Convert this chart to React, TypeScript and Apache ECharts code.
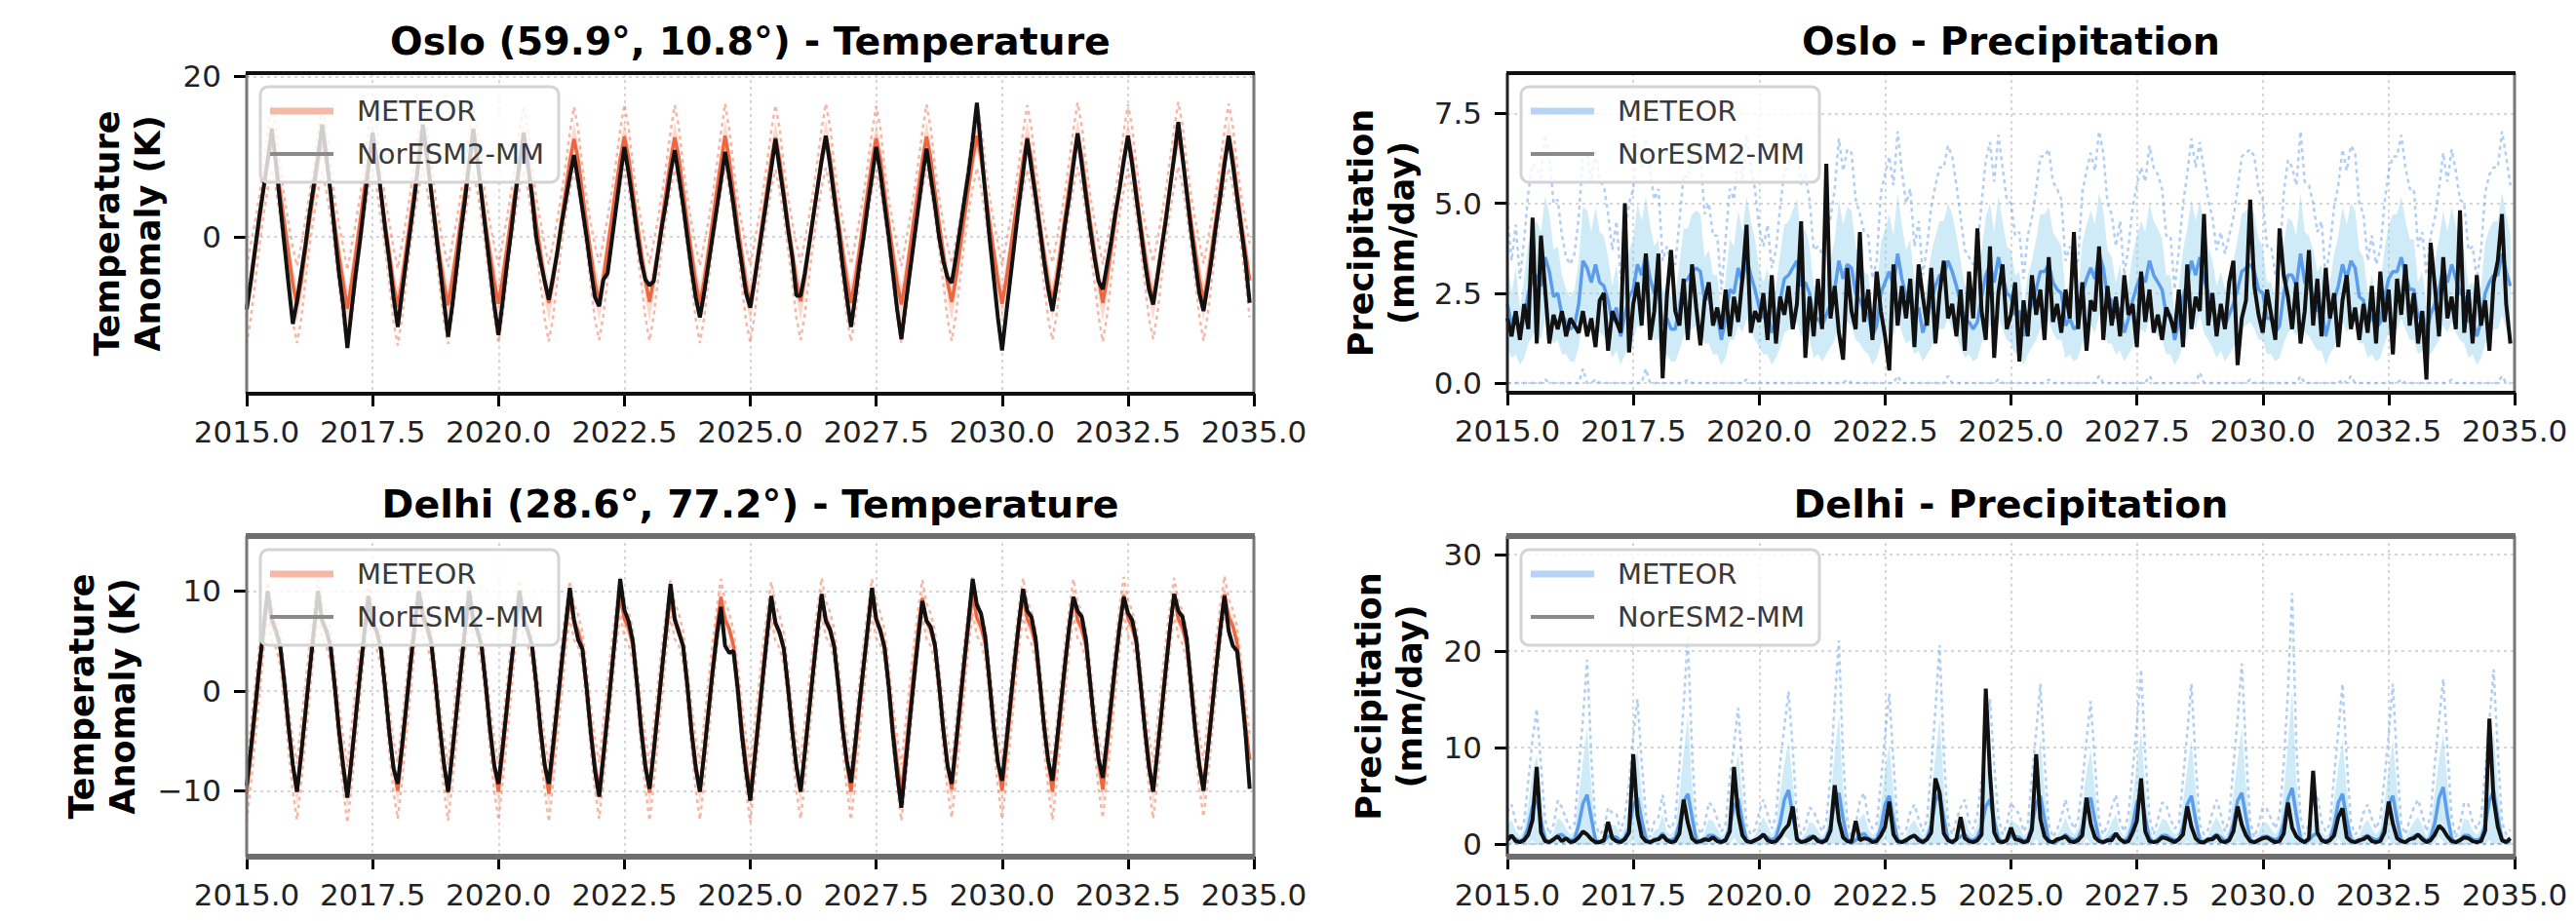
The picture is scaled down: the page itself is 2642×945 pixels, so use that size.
import React, { useEffect, useRef } from "react";
import * as echarts from "echarts";

// ---------- axes / ticks ----------
const X_MIN = 2015;
const X_MAX = 2035;
const X_INTERVAL = 2.5;
const N_MONTHS = 240;

const osloTempTicks = [0, 20];
const delhiTempTicks = [-10, 0, 10];
const osloPrecipTicks = [0, 2.5, 5, 7.5];
const delhiPrecipTicks = [0, 10, 20, 30];

const osloTempRange = [-19.5, 20.4];
const delhiTempRange = [-16.6, 15.5];
const osloPrecipRange = [-0.27, 8.62];
const delhiPrecipRange = [-1.3, 31.9];

const titles = [
  "Oslo (59.9°, 10.8°) - Temperature",
  "Oslo - Precipitation",
  "Delhi (28.6°, 77.2°) - Temperature",
  "Delhi - Precipitation",
];
const yNames = [
  "Temperature\nAnomaly (K)",
  "Precipitation\n(mm/day)",
  "Temperature\nAnomaly (K)",
  "Precipitation\n(mm/day)",
];
const legendNames = ["METEOR", "NorESM2-MM"];

// ---------- Oslo temperature (monthly, Jan 2015 .. Dec 2034) ----------
const osloTempNorESM = [
  -9, -5.5, -1.5, 2.5, 6, 9.5, 13.5, 9, 4, -1, -6, -10.8,
  -8, -4.5, -1, 3, 6.5, 10, 14, 10, 5.5, 0.5, -4.5, -8.5,
  -13.8, -9, -4.5, -0.5, 4, 8.5, 13, 9.5, 5.5, 1, -3, -7.5,
  -11.2, -7, -3, 1, 5, 9.5, 14, 10, 5.5, 1, -3.5, -8,
  -12.4, -8.5, -4, 0.5, 4.5, 9, 13.5, 9.5, 5, 0.5, -4, -8.5,
  -12.2, -8, -3.5, 0.5, 5, 9, 13, 9, 5, 0, -3, -5.5,
  -7.8, -5, -2, 1.5, 4.5, 7.5, 10.2, 7, 3.5, 0, -4, -7.5,
  -8.6, -5.3, -4.5, -0.5, 3.5, 7.5, 11.2, 8, 4.5, 0.5, -3, -5.3,
  -6, -5.5, -2, 1.5, 4.5, 8, 10.8, 7.5, 4, 0, -4, -7.5,
  -10, -7, -3.5, 0, 3.5, 7, 10.6, 7.5, 4, 0, -3.5, -7,
  -8.8, -5.5, -2, 1.5, 5, 8.5, 12.2, 8.5, 5, 1, -2.5, -7.3,
  -7.3, -4.5, -1, 2.5, 6, 9.5, 12.6, 9, 5, 1, -3.5, -7.5,
  -11.2, -7.5, -3.5, 0, 4, 7.5, 11.2, 8, 4, 0, -4.5, -9,
  -12.7, -8.5, -4.5, -0.5, 3.5, 7.5, 11, 7.5, 4, 0, -3, -5,
  -5.7, -2.5, 1, 4.5, 8, 12, 16.7, 11, 5.5, 0, -5, -10,
  -14.1, -9.5, -5, -0.5, 4, 8, 12.2, 8.5, 5, 1, -3, -6.5,
  -9.2, -6, -2.5, 1.5, 5, 9, 12.9, 9, 5, 1, -2.5, -5.5,
  -6.5, -3.5, -0.5, 3, 6, 9.5, 12.6, 9, 5, 1, -3, -6.5,
  -8.4, -5, -1.5, 2, 6, 10, 14.3, 10, 5.5, 1, -3, -7,
  -9.2, -6, -2.5, 1.5, 5, 9, 12.6, 9, 5, 1, -3, -8.2,
];
const osloTempMeteorMean = [
  -8.6, -5.4, -1.9, 1.9, 5.9, 9.5, 12.4, 9.7, 5.5, 1.7, -2.1, -5.9,
  -8.4, -5.6, -1.7, 2.1, 5.7, 9.3, 12.2, 9.5, 5.7, 1.5, -2.3, -5.7,
  -8.9, -5.7, -2.0, 1.8, 5.8, 9.4, 12.5, 9.8, 5.4, 1.6, -2.0, -6.0,
  -8.7, -5.5, -1.6, 2.2, 6.0, 9.6, 12.6, 9.6, 5.8, 1.8, -2.4, -5.8,
  -8.5, -5.3, -1.8, 2.0, 5.6, 9.2, 12.1, 9.4, 5.4, 1.4, -2.2, -5.6,
  -8.3, -5.2, -1.5, 2.3, 5.9, 9.5, 12.3, 9.7, 5.7, 1.7, -1.9, -5.5,
  -8.2, -5.4, -1.7, 2.1, 5.8, 9.4, 12.2, 9.6, 5.6, 1.6, -2.1, -5.7,
  -8.0, -5.1, -1.4, 2.4, 6.1, 9.7, 12.5, 9.9, 5.9, 1.9, -1.8, -5.4,
  -8.1, -5.2, -1.6, 2.2, 5.9, 9.5, 12.4, 9.8, 5.8, 1.8, -2.0, -5.6,
  -8.4, -5.5, -1.9, 1.9, 5.7, 9.3, 12.6, 9.6, 5.6, 1.5, -2.2, -5.9,
  -8.3, -5.3, -1.5, 2.3, 6.0, 9.6, 12.4, 9.7, 5.7, 1.7, -1.9, -5.5,
  -8.0, -5.0, -1.3, 2.5, 6.2, 9.8, 12.6, 10.0, 6.0, 2.0, -1.7, -5.3,
  -8.2, -5.3, -1.7, 2.1, 5.8, 9.4, 12.3, 9.7, 5.6, 1.6, -2.1, -5.7,
  -8.4, -5.4, -1.6, 2.2, 5.9, 9.5, 12.5, 9.8, 5.7, 1.7, -2.0, -5.6,
  -8.1, -5.1, -1.4, 2.4, 6.1, 9.7, 12.6, 9.9, 5.9, 1.9, -1.8, -5.4,
  -8.3, -5.3, -1.6, 2.2, 5.9, 9.5, 12.4, 9.7, 5.7, 1.7, -2.0, -5.6,
  -8.0, -5.0, -1.3, 2.5, 6.2, 9.8, 12.7, 10.0, 6.0, 2.0, -1.7, -5.3,
  -8.2, -5.2, -1.5, 2.3, 6.0, 9.6, 12.5, 9.8, 5.8, 1.8, -1.9, -5.5,
  -7.9, -5.0, -1.3, 2.5, 6.3, 9.9, 12.8, 10.1, 6.1, 2.1, -1.6, -5.2,
  -8.1, -5.1, -1.4, 2.4, 6.1, 9.7, 12.6, 9.9, 5.9, 1.9, -1.8, -5.4,
];
// ensemble spread by calendar month (Jan..Dec)
const osloTempMeteorStd = [2.4, 2.3, 1.9, 1.6, 1.6, 1.8, 2.0, 1.9, 1.6, 1.6, 1.9, 2.3];

// ---------- Delhi temperature ----------
const delhiTempNorESM = [
  -9.5, -5.8, -1.8, 2.4, 6.2, 10.0, 7.2, 6.0, 4.5, 0.8, -3.6, -7.4,
  -10.1, -6.3, -2.2, 2.0, 6.0, 10.0, 7.0, 6.0, 4.4, 0.4, -4.0, -7.6,
  -10.7, -6.8, -2.6, 1.6, 5.6, 9.5, 6.8, 6.0, 4.2, 0.2, -4.2, -7.8,
  -9.3, -5.6, -1.6, 2.6, 6.4, 10.0, 7.6, 6.5, 4.8, 0.9, -3.5, -7.3,
  -10.1, -6.2, -2.1, 2.1, 6.1, 10.0, 7.1, 6.0, 4.4, 0.5, -3.9, -7.5,
  -9.3, -5.6, -1.6, 2.5, 6.3, 10.0, 7.2, 6.0, 4.5, 0.7, -3.8, -7.4,
  -9.3, -5.5, -1.5, 2.6, 6.5, 10.3, 7.1, 5.1, 4.2, 0.3, -4.2, -8.0,
  -10.6, -6.6, -2.4, 2.0, 6.4, 11.2, 8.1, 7.0, 5.0, 0.8, -3.9, -7.6,
  -9.8, -6.0, -1.9, 2.4, 6.4, 10.7, 7.2, 5.8, 4.5, 0.6, -4.1, -7.7,
  -10.1, -6.3, -2.3, 1.8, 5.4, 8.4, 4.5, 3.8, 4.0, 0.2, -4.4, -8.0,
  -11.0, -7.0, -2.8, 1.4, 5.5, 9.5, 6.8, 5.8, 4.2, 0.3, -4.0, -7.6,
  -10.1, -6.2, -2.1, 2.0, 6.0, 9.7, 7.0, 6.1, 4.4, 0.5, -3.8, -7.0,
  -9.2, -5.4, -1.3, 2.5, 6.3, 10.3, 7.2, 6.0, 4.3, 0.4, -4.4, -8.3,
  -11.7, -7.4, -3.0, 1.2, 5.2, 9.0, 7.0, 6.4, 4.6, 0.6, -3.9, -7.5,
  -9.3, -5.4, -1.2, 3.0, 7.0, 11.2, 8.6, 7.7, 5.4, 1.0, -3.6, -7.2,
  -9.0, -5.2, -1.1, 3.0, 6.8, 10.2, 8.0, 7.4, 5.2, 0.9, -3.5, -7.0,
  -9.0, -5.3, -1.3, 2.7, 6.4, 9.4, 8.0, 7.4, 5.1, 0.8, -3.4, -6.8,
  -8.7, -5.0, -1.1, 2.8, 6.4, 9.4, 7.8, 7.1, 5.0, 0.7, -3.7, -7.6,
  -10.1, -6.2, -2.1, 2.1, 6.2, 9.7, 8.0, 7.4, 5.2, 0.7, -3.8, -7.5,
  -10.0, -6.1, -2.0, 2.2, 6.1, 9.5, 6.0, 4.5, 4.0, 0.2, -4.2, -9.8,
];
const delhiTempMeteorMean = [
  -10.3, -6.4, -2.3, 1.9, 5.9, 9.1, 6.8, 5.9, 4.2, 0.4, -3.9, -7.5,
  -10.1, -6.2, -2.1, 2.1, 6.1, 9.3, 7.0, 6.1, 4.4, 0.6, -3.7, -7.3,
  -10.4, -6.5, -2.4, 1.8, 5.8, 9.0, 6.7, 5.8, 4.1, 0.3, -4.0, -7.6,
  -10.0, -6.1, -2.0, 2.2, 6.2, 9.4, 7.1, 6.2, 4.5, 0.7, -3.6, -7.2,
  -10.2, -6.3, -2.2, 2.0, 6.0, 9.2, 6.9, 6.0, 4.3, 0.5, -3.8, -7.4,
  -10.1, -6.2, -2.1, 2.1, 6.1, 9.3, 7.0, 6.1, 4.4, 0.6, -3.7, -7.3,
  -10.3, -6.3, -2.2, 2.0, 6.0, 9.2, 6.9, 6.0, 4.3, 0.5, -3.8, -7.4,
  -10.0, -6.1, -1.9, 2.3, 6.3, 9.5, 7.2, 6.3, 4.6, 0.8, -3.5, -7.1,
  -10.2, -6.3, -2.1, 2.1, 6.1, 9.3, 7.0, 6.1, 4.4, 0.6, -3.7, -7.3,
  -10.1, -6.2, -2.0, 2.2, 6.2, 9.4, 7.1, 6.2, 4.5, 0.7, -3.6, -7.2,
  -10.4, -6.5, -2.3, 1.9, 5.9, 9.1, 6.8, 5.9, 4.2, 0.4, -3.9, -7.5,
  -10.0, -6.1, -1.9, 2.3, 6.3, 9.5, 7.2, 6.3, 4.6, 0.8, -3.5, -7.1,
  -10.1, -6.2, -2.0, 2.2, 6.2, 9.4, 7.1, 6.2, 4.5, 0.7, -3.6, -7.2,
  -10.2, -6.3, -2.1, 2.1, 6.1, 9.3, 7.0, 6.1, 4.4, 0.6, -3.7, -7.3,
  -9.9, -6.0, -1.8, 2.4, 6.4, 9.6, 7.3, 6.4, 4.7, 0.9, -3.4, -7.0,
  -10.0, -6.1, -1.9, 2.3, 6.3, 9.5, 7.2, 6.3, 4.6, 0.8, -3.5, -7.1,
  -10.1, -6.2, -2.0, 2.2, 6.2, 9.4, 7.1, 6.2, 4.5, 0.7, -3.6, -7.2,
  -9.9, -6.0, -1.8, 2.4, 6.4, 9.6, 7.3, 6.4, 4.7, 0.9, -3.4, -7.0,
  -10.0, -6.1, -1.9, 2.3, 6.3, 9.5, 7.2, 6.3, 4.6, 0.8, -3.5, -7.1,
  -9.8, -5.9, -1.7, 2.5, 6.5, 9.7, 7.4, 6.5, 4.8, 1.0, -3.3, -6.9,
];
const delhiTempMeteorStd = [1.4, 1.5, 1.4, 1.3, 1.0, 0.9, 0.9, 0.8, 0.8, 0.9, 1.1, 1.3];

// ---------- Oslo precipitation (mm/day) ----------
const osloPrecipNorESM = [
  1.8, 1.3, 2.0, 1.2, 2.2, 1.5, 4.6, 1.1, 4.1, 2.6, 1.1, 1.9,
  1.5, 2.0, 1.3, 1.8, 1.6, 1.4, 2.0, 1.3, 1.8, 1.0, 2.3, 2.5,
  0.9, 2.0, 1.7, 1.4, 5.0, 0.85, 2.2, 2.8, 1.6, 3.6, 1.2, 2.0,
  3.6, 0.13, 2.4, 3.7, 2.0, 1.6, 2.9, 1.2, 3.3, 2.1, 1.05, 2.3,
  2.8, 1.6, 2.1, 1.5, 2.6, 1.3, 2.4, 1.7, 2.9, 4.4, 1.4, 2.0,
  1.7, 2.5, 1.2, 3.0, 1.1, 2.4, 1.9, 2.7, 1.5, 2.2, 4.5, 0.7,
  2.4, 1.3, 2.9, 1.5, 6.1, 1.8, 2.7, 1.4, 0.65, 3.2, 2.0, 1.5,
  4.2, 1.7, 2.6, 1.2, 3.1, 2.0, 1.3, 0.35, 3.3, 1.6, 2.7, 1.8,
  2.9, 1.0, 3.3, 2.4, 1.6, 3.2, 1.1, 2.5, 3.4, 1.8, 2.2, 1.3,
  2.6, 0.9, 3.1, 1.8, 4.3, 2.0, 1.2, 3.8, 0.7, 2.5, 3.3, 1.5,
  1.9, 2.8, 0.6, 2.3, 1.3, 3.0, 1.9, 2.6, 1.2, 3.5, 1.7, 2.2,
  1.4, 2.6, 1.8, 4.2, 1.5, 2.8, 0.9, 2.3, 2.0, 3.8, 1.2, 2.7,
  1.6, 2.4, 1.3, 3.0, 1.9, 2.2, 1.0, 3.1, 1.7, 2.6, 1.4, 1.9,
  1.2, 2.1, 1.8, 1.4, 2.6, 1.0, 3.3, 1.5, 2.4, 2.0, 4.7, 1.6,
  2.5, 1.3, 2.2, 1.5, 2.8, 3.4, 0.5, 1.8, 2.3, 5.1, 2.7, 1.9,
  1.4, 2.6, 1.9, 1.2, 4.3, 3.0, 2.4, 1.5, 2.8, 1.1, 2.0, 3.7,
  1.6, 2.9, 1.3, 3.2, 1.8, 2.5, 1.0, 2.3, 3.0, 1.5, 2.1, 1.2,
  2.2, 1.4, 2.7, 1.1, 3.1, 1.7, 2.6, 0.8, 2.9, 1.9, 3.3, 1.6,
  2.5, 1.1, 2.0, 0.1, 3.9, 2.7, 1.3, 3.5, 1.8, 2.4, 1.5, 4.8,
  1.4, 2.6, 1.1, 3.0, 1.6, 2.3, 0.9, 2.8, 3.4, 4.7, 2.2, 1.1,
];
const osloPrecipMeteorMean = [
  2.2, 1.6, 2.0, 1.3, 1.8, 2.5, 2.9, 3.0, 2.7, 3.5, 3.1, 2.4,
  2.5, 1.9, 1.7, 1.5, 1.6, 2.2, 3.4, 3.2, 2.8, 3.3, 2.8, 2.7,
  2.3, 1.7, 2.1, 1.3, 1.9, 2.4, 2.6, 3.3, 3.0, 3.6, 2.9, 2.5,
  2.6, 1.6, 1.8, 1.5, 1.5, 2.1, 2.8, 2.9, 3.1, 3.2, 3.1, 2.3,
  2.4, 1.9, 1.9, 1.2, 1.8, 2.6, 2.5, 3.2, 2.8, 3.5, 3.0, 2.6,
  2.1, 1.8, 2.0, 1.4, 1.7, 2.3, 2.9, 3.0, 3.2, 3.4, 2.7, 2.8,
  2.5, 1.7, 1.8, 1.6, 1.9, 2.2, 2.6, 3.4, 2.9, 3.3, 3.2, 2.5,
  2.3, 2.0, 1.9, 1.3, 1.6, 2.5, 2.8, 3.1, 2.7, 3.6, 2.9, 2.4,
  2.6, 1.8, 2.1, 1.4, 1.8, 2.3, 2.7, 3.0, 3.0, 3.4, 3.1, 2.7,
  2.2, 1.7, 1.7, 1.5, 1.7, 2.4, 3.0, 3.3, 2.8, 3.5, 3.0, 2.5,
  2.4, 1.9, 2.0, 1.3, 1.9, 2.2, 2.6, 3.1, 3.1, 3.3, 2.8, 2.6,
  2.5, 1.6, 1.8, 1.5, 1.6, 2.5, 2.9, 3.2, 2.9, 3.6, 3.2, 2.4,
  2.3, 1.8, 2.1, 1.4, 1.8, 2.3, 2.7, 3.0, 2.8, 3.4, 3.0, 2.8,
  2.6, 1.9, 1.9, 1.2, 1.7, 2.4, 2.8, 3.4, 3.0, 3.5, 2.9, 2.5,
  2.2, 1.7, 2.0, 1.6, 1.9, 2.2, 2.6, 3.1, 3.2, 3.3, 3.1, 2.6,
  2.5, 1.8, 1.8, 1.4, 1.6, 2.5, 3.0, 3.0, 2.7, 3.6, 2.8, 2.7,
  2.4, 2.0, 2.1, 1.3, 1.8, 2.3, 2.7, 3.3, 2.9, 3.4, 3.2, 2.4,
  2.3, 1.6, 1.9, 1.5, 1.7, 2.4, 2.9, 3.1, 3.1, 3.5, 3.0, 2.6,
  2.6, 1.8, 2.0, 1.4, 1.9, 2.2, 2.6, 3.2, 2.8, 3.3, 2.9, 2.5,
  2.4, 1.7, 1.8, 1.3, 1.7, 2.5, 2.8, 3.0, 3.0, 3.6, 3.1, 2.7,
];
const osloPrecipMeteorStd = [
  1.2, 0.9, 1.2, 0.8, 1.1, 1.4, 1.6, 1.5, 1.5, 1.7, 1.6, 1.3,
  1.3, 1.1, 0.9, 0.9, 1.0, 1.2, 1.5, 1.6, 1.4, 1.6, 1.4, 1.4,
  1.2, 1.0, 1.2, 0.8, 1.1, 1.3, 1.4, 1.7, 1.5, 1.6, 1.5, 1.3,
  1.4, 0.9, 1.0, 0.9, 0.9, 1.2, 1.5, 1.4, 1.6, 1.6, 1.6, 1.2,
  1.3, 1.1, 1.1, 0.7, 1.1, 1.4, 1.3, 1.6, 1.4, 1.7, 1.5, 1.4,
  1.1, 1.0, 1.2, 0.9, 1.0, 1.3, 1.5, 1.5, 1.6, 1.7, 1.4, 1.5,
  1.3, 1.0, 1.0, 1.0, 1.1, 1.2, 1.4, 1.7, 1.5, 1.6, 1.6, 1.3,
  1.2, 1.1, 1.1, 0.8, 0.9, 1.4, 1.5, 1.6, 1.4, 1.7, 1.5, 1.3,
  1.4, 1.0, 1.2, 0.8, 1.0, 1.3, 1.4, 1.5, 1.5, 1.6, 1.6, 1.4,
  1.2, 1.0, 0.9, 0.9, 1.0, 1.3, 1.6, 1.7, 1.4, 1.7, 1.5, 1.3,
  1.3, 1.1, 1.1, 0.8, 1.1, 1.2, 1.4, 1.6, 1.6, 1.6, 1.4, 1.4,
  1.3, 0.9, 1.0, 0.9, 0.9, 1.4, 1.5, 1.6, 1.5, 1.7, 1.6, 1.3,
  1.2, 1.0, 1.2, 0.8, 1.0, 1.3, 1.4, 1.5, 1.4, 1.6, 1.5, 1.5,
  1.4, 1.1, 1.1, 0.7, 1.0, 1.3, 1.5, 1.7, 1.5, 1.6, 1.5, 1.3,
  1.2, 1.0, 1.1, 1.0, 1.1, 1.2, 1.4, 1.6, 1.6, 1.6, 1.6, 1.4,
  1.3, 1.0, 1.0, 0.8, 0.9, 1.4, 1.6, 1.5, 1.4, 1.7, 1.4, 1.4,
  1.3, 1.1, 1.2, 0.8, 1.0, 1.3, 1.4, 1.6, 1.5, 1.6, 1.6, 1.3,
  1.2, 0.9, 1.1, 0.9, 1.0, 1.3, 1.5, 1.6, 1.6, 1.7, 1.5, 1.4,
  1.4, 1.0, 1.1, 0.8, 1.1, 1.2, 1.4, 1.6, 1.4, 1.6, 1.5, 1.3,
  1.3, 1.0, 1.0, 0.8, 1.0, 1.4, 1.5, 1.5, 1.5, 1.7, 1.6, 1.4,
];

// ---------- Delhi precipitation (mm/day) ----------
const delhiPrecipNorESM = [
  0.4, 0.9, 0.3, 0.2, 0.4, 1.0, 2.5, 8.0, 1.2, 0.3, 0.2, 0.5,
  0.8, 0.3, 0.6, 0.2, 0.3, 0.7, 1.3, 1.0, 0.5, 0.2, 0.2, 0.4,
  2.3, 0.6, 0.3, 0.2, 0.5, 1.2, 9.3, 3.0, 0.8, 0.3, 0.2, 0.4,
  0.5, 0.9, 0.4, 0.2, 0.3, 1.1, 4.6, 2.2, 0.6, 0.2, 0.3, 0.5,
  0.4, 0.7, 0.3, 0.2, 0.4, 1.3, 8.0, 3.1, 0.9, 0.3, 0.2, 0.4,
  0.6, 1.0, 0.4, 0.2, 0.3, 0.8, 1.5, 2.0, 3.9, 0.5, 0.2, 0.3,
  0.5, 0.8, 0.3, 0.2, 0.4, 1.4, 6.1, 2.4, 0.7, 0.3, 0.2, 2.4,
  0.4, 0.6, 0.5, 0.2, 0.3, 0.9, 1.8, 4.4, 1.0, 0.3, 0.2, 0.4,
  0.7, 0.9, 0.4, 0.2, 0.5, 1.2, 6.8, 5.3, 1.1, 0.4, 0.2, 0.5,
  2.8, 0.6, 0.3, 0.2, 0.4, 1.0, 16.1, 7.3, 1.2, 0.3, 0.2, 0.4,
  1.7, 0.5, 0.4, 0.2, 0.3, 1.5, 9.3, 2.6, 0.8, 0.3, 0.2, 0.5,
  0.6, 0.8, 0.3, 0.2, 0.4, 0.9, 4.8, 2.1, 0.7, 0.3, 0.2, 0.4,
  0.4, 1.1, 0.5, 0.2, 0.3, 1.2, 2.4, 6.8, 1.3, 0.3, 0.2, 0.3,
  0.7, 0.6, 0.4, 0.2, 0.5, 1.0, 3.9, 1.8, 0.6, 0.2, 0.2, 0.5,
  0.5, 0.9, 0.3, 0.2, 0.4, 1.3, 3.9, 2.0, 0.9, 0.3, 0.2, 0.4,
  0.6, 0.7, 0.4, 0.2, 0.3, 1.1, 4.3, 1.7, 0.8, 0.4, 0.2, 0.6,
  7.6, 1.2, 0.4, 0.2, 0.4, 0.9, 2.8, 3.7, 0.7, 0.3, 0.2, 0.4,
  0.5, 0.8, 0.3, 0.2, 0.3, 1.2, 4.4, 2.1, 0.6, 0.3, 0.2, 0.5,
  0.6, 1.0, 0.5, 0.2, 0.4, 1.0, 1.9, 1.5, 0.8, 0.3, 0.2, 0.4,
  0.7, 0.6, 0.3, 0.2, 0.3, 1.4, 13.0, 4.7, 1.8, 0.4, 0.2, 0.6,
];
const delhiPrecipMeteorMean = [
  0.7, 0.9, 0.5, 0.3, 0.6, 1.8, 3.9, 4.6, 2.4, 0.5, 0.2, 0.4,
  0.9, 1.0, 0.6, 0.4, 0.5, 2.0, 4.2, 5.1, 2.7, 0.4, 0.2, 0.3,
  0.8, 0.8, 0.7, 0.3, 0.7, 1.7, 4.0, 4.8, 2.5, 0.6, 0.1, 0.5,
  0.6, 1.1, 0.5, 0.4, 0.6, 2.1, 4.4, 5.2, 2.8, 0.5, 0.2, 0.4,
  0.9, 0.9, 0.6, 0.3, 0.5, 1.8, 3.9, 4.7, 2.3, 0.4, 0.2, 0.3,
  0.7, 1.0, 0.7, 0.4, 0.7, 2.2, 4.6, 5.6, 2.9, 0.6, 0.2, 0.4,
  0.8, 0.8, 0.5, 0.3, 0.6, 1.9, 4.3, 5.3, 2.6, 0.5, 0.1, 0.4,
  0.9, 1.1, 0.6, 0.4, 0.5, 1.7, 4.1, 5.0, 2.5, 0.4, 0.2, 0.3,
  0.7, 0.9, 0.6, 0.3, 0.6, 2.0, 4.4, 5.4, 2.7, 0.5, 0.2, 0.5,
  0.8, 1.0, 0.5, 0.4, 0.7, 1.8, 3.9, 4.6, 2.4, 0.6, 0.2, 0.4,
  0.9, 0.8, 0.7, 0.3, 0.5, 1.9, 4.2, 5.0, 2.6, 0.4, 0.1, 0.3,
  0.6, 1.0, 0.6, 0.4, 0.6, 1.7, 4.0, 4.8, 2.5, 0.5, 0.2, 0.4,
  0.8, 1.1, 0.5, 0.3, 0.7, 2.0, 4.3, 5.1, 2.7, 0.6, 0.2, 0.5,
  0.9, 0.9, 0.6, 0.4, 0.5, 1.8, 4.1, 5.0, 2.5, 0.4, 0.2, 0.3,
  0.7, 1.0, 0.7, 0.3, 0.6, 2.1, 4.5, 5.3, 2.8, 0.5, 0.1, 0.4,
  0.8, 0.8, 0.6, 0.4, 0.7, 2.2, 4.7, 5.8, 3.0, 0.6, 0.2, 0.4,
  0.9, 1.1, 0.5, 0.3, 0.5, 1.9, 4.3, 5.2, 2.6, 0.5, 0.2, 0.3,
  0.7, 0.9, 0.6, 0.4, 0.6, 1.8, 4.1, 5.0, 2.5, 0.4, 0.2, 0.5,
  0.8, 1.0, 0.7, 0.3, 0.7, 2.2, 4.8, 5.9, 2.9, 0.6, 0.1, 0.4,
  0.9, 0.9, 0.5, 0.4, 0.6, 2.0, 4.5, 5.5, 2.8, 0.5, 0.2, 0.3,
];
const delhiPrecipMeteorStd = [
  1.3, 1.6, 0.9, 0.5, 0.9, 2.4, 3.5, 4.7, 2.9, 1.0, 0.4, 0.8,
  1.8, 1.4, 1.0, 0.6, 0.8, 2.8, 4.4, 7.0, 3.2, 0.8, 0.4, 0.6,
  1.5, 1.2, 1.2, 0.5, 1.1, 2.3, 3.6, 5.1, 3.0, 1.2, 0.3, 0.9,
  1.1, 2.0, 0.8, 0.6, 1.0, 3.0, 5.0, 8.1, 3.4, 0.9, 0.4, 0.8,
  1.7, 1.5, 1.0, 0.5, 0.8, 2.5, 3.2, 4.7, 2.8, 0.8, 0.4, 0.6,
  1.3, 1.8, 1.2, 0.6, 1.1, 3.1, 3.8, 5.1, 3.5, 1.1, 0.4, 0.7,
  1.5, 1.3, 0.9, 0.5, 0.9, 2.6, 5.2, 7.9, 3.1, 0.9, 0.3, 0.8,
  1.8, 2.1, 1.0, 0.6, 0.8, 2.3, 3.6, 5.3, 3.0, 0.8, 0.4, 0.6,
  1.3, 1.6, 1.0, 0.5, 1.0, 2.9, 4.8, 7.6, 3.3, 0.9, 0.4, 1.0,
  1.5, 1.8, 0.9, 0.6, 1.2, 2.5, 3.4, 5.2, 2.9, 1.1, 0.4, 0.8,
  1.7, 1.4, 1.2, 0.5, 0.8, 2.6, 3.7, 5.8, 3.1, 0.8, 0.3, 0.6,
  1.1, 1.8, 1.0, 0.6, 1.0, 2.3, 3.4, 5.0, 3.0, 0.9, 0.4, 0.8,
  1.5, 2.0, 0.9, 0.5, 1.2, 2.8, 4.1, 6.5, 3.3, 1.1, 0.4, 1.0,
  1.7, 1.6, 1.0, 0.6, 0.8, 2.5, 3.7, 5.8, 3.0, 0.8, 0.4, 0.6,
  1.3, 1.8, 1.2, 0.5, 1.0, 3.0, 4.2, 6.7, 3.4, 0.9, 0.3, 0.8,
  1.5, 1.4, 1.0, 0.6, 1.2, 3.1, 5.6, 10.1, 3.6, 1.1, 0.4, 0.8,
  1.7, 2.0, 0.9, 0.5, 0.8, 2.6, 3.7, 5.7, 3.1, 0.9, 0.4, 0.6,
  1.3, 1.6, 1.0, 0.6, 1.0, 2.5, 3.6, 5.8, 3.0, 0.8, 0.4, 1.0,
  1.5, 1.8, 1.2, 0.5, 1.2, 3.1, 4.0, 5.6, 3.5, 1.1, 0.3, 0.8,
  1.7, 1.6, 0.9, 0.6, 1.0, 2.8, 4.1, 6.3, 3.4, 0.9, 0.4, 0.6,
];

// ---------- build ----------
const FONT = '"DejaVu Sans", sans-serif';
const xs: number[] = Array.from({ length: N_MONTHS }, (_, i) => X_MIN + i / 12);

const grids = [
  { left: 253, top: 75, width: 1033, height: 329 },
  { left: 1546, top: 75, width: 1033, height: 328 },
  { left: 253, top: 550, width: 1033, height: 329 },
  { left: 1546, top: 550, width: 1033, height: 329 },
];

const tempPalette = {
  band: "rgba(247,140,110,0.32)",
  dotted: "rgba(240,120,90,0.55)",
  mean: "#ec6640",
  legend: "#f5b8a6",
};
const precipPalette = {
  band: "rgba(135,206,235,0.4)",
  dotted: "rgba(110,165,235,0.55)",
  mean: "#5b9cec",
  legend: "#b7d3f6",
};

const minus = (s: string) => s.replace("-", "\u2212");

const panels = [
  {
    black: osloTempNorESM, mean: osloTempMeteorMean,
    std: (i: number) => osloTempMeteorStd[i % 12], clip: false,
    range: osloTempRange, ticks: osloTempTicks, fmt: (v: number) => minus(String(v)),
    pal: tempPalette, yNameX: 131,
  },
  {
    black: osloPrecipNorESM, mean: osloPrecipMeteorMean,
    std: (i: number) => osloPrecipMeteorStd[i], clip: true,
    range: osloPrecipRange, ticks: osloPrecipTicks, fmt: (v: number) => v.toFixed(1),
    pal: precipPalette, yNameX: 1417,
  },
  {
    black: delhiTempNorESM, mean: delhiTempMeteorMean,
    std: (i: number) => delhiTempMeteorStd[i % 12], clip: false,
    range: delhiTempRange, ticks: delhiTempTicks, fmt: (v: number) => minus(String(v)),
    pal: tempPalette, yNameX: 105,
  },
  {
    black: delhiPrecipNorESM, mean: delhiPrecipMeteorMean,
    std: (i: number) => delhiPrecipMeteorStd[i], clip: true,
    range: delhiPrecipRange, ticks: delhiPrecipTicks, fmt: (v: number) => String(v),
    pal: precipPalette, yNameX: 1425,
  },
];

const gridLineStyle = { color: "#d6d6d6", width: 2, type: [3, 4] as number[] };

function buildOption() {
  const xAxis: any[] = [];
  const yAxis: any[] = [];
  const series: any[] = [];
  const graphic: any[] = [];

  panels.forEach((p, k) => {
    const g = grids[k];
    xAxis.push({
      type: "value", gridIndex: k, min: X_MIN, max: X_MAX, interval: X_INTERVAL,
      position: "bottom",
      axisLine: { show: false, onZero: false },
      axisTick: { show: true, length: 13, lineStyle: { color: "#000", width: 3 } },
      axisLabel: {
        fontSize: 31, color: "#222", fontFamily: FONT, margin: 23,
        formatter: (v: number) => v.toFixed(1),
      },
      splitLine: { show: true, lineStyle: gridLineStyle },
    });
    yAxis.push({
      type: "value", gridIndex: k, min: p.range[0], max: p.range[1],
      position: "left",
      axisLine: { show: false, onZero: false },
      axisTick: { show: true, length: 13, customValues: p.ticks, lineStyle: { color: "#000", width: 3 } },
      axisLabel: {
        customValues: p.ticks, fontSize: 31, color: "#222", fontFamily: FONT, margin: 26,
        formatter: (v: number) => p.fmt(v),
      },
      splitLine: { show: true, lineStyle: gridLineStyle },
    });

    const lo = p.mean.map((m, i) => (p.clip ? Math.max(0, m - p.std(i)) : m - p.std(i)));
    const hi = p.mean.map((m, i) => m + p.std(i));
    const lo2 = p.mean.map((m, i) => (p.clip ? Math.max(0, m - 2 * p.std(i)) : m - 2 * p.std(i)));
    const hi2 = p.mean.map((m, i) => m + 2 * p.std(i));

    series.push({
      type: "custom", name: "METEOR", xAxisIndex: k, yAxisIndex: k, silent: true, z: 1,
      data: [[xs[0], p.mean[0]]],
      renderItem: (_params: any, api: any) => {
        const pts: number[][] = [];
        for (let i = 0; i < N_MONTHS; i++) pts.push(api.coord([xs[i], hi[i]]));
        for (let i = N_MONTHS - 1; i >= 0; i--) pts.push(api.coord([xs[i], lo[i]]));
        return { type: "polygon", shape: { points: pts }, style: { fill: p.pal.band } };
      },
    });
    const line = (arr: number[], color: string, width: number, type: any, z: number, name?: string) => ({
      type: "line", name, xAxisIndex: k, yAxisIndex: k, silent: true, z,
      symbol: "none", clip: true,
      data: xs.map((x, i) => [x, arr[i]]),
      lineStyle: { color, width, type },
    });
    series.push(line(hi2, p.pal.dotted, 2.5, [4, 4], 2));
    series.push(line(lo2, p.pal.dotted, 2.5, [4, 4], 2));
    series.push(line(p.mean, p.pal.mean, 3.5, "solid", 3));
    series.push(line(p.black, "#111", 4, "solid", 4, "NorESM2-MM"));

    // title
    graphic.push({
      type: "text", x: g.left + g.width / 2, y: k < 2 ? 42 : 517, z: 100,
      style: {
        text: titles[k], font: `bold 39.5px ${FONT}`, fill: "#000",
        align: "center", verticalAlign: "middle", textAlign: "center", textVerticalAlign: "middle",
      },
    });
    // y name
    graphic.push({
      type: "text", x: p.yNameX, y: g.top + g.height / 2, rotation: Math.PI / 2, z: 100,
      style: {
        text: yNames[k], font: `bold 35px ${FONT}`, fill: "#000", lineHeight: 42,
        align: "center", verticalAlign: "middle", textAlign: "center", textVerticalAlign: "middle",
      },
    });
    // spines
    const x0 = g.left, x1 = g.left + g.width, y0 = g.top, y1 = g.top + g.height;
    const topRow = k < 2;
    const hc = topRow ? "#111" : "#6e6e6e";
    const hw = topRow ? 4 : 6;
    const vc = k === 0 || k === 2 ? "#777" : "#222";
    graphic.push({ type: "line", z: 90, shape: { x1: x0, y1: y0, x2: x0, y2: y1 }, style: { stroke: vc, lineWidth: 3 } });
    graphic.push({ type: "line", z: 90, shape: { x1: x1, y1: y0, x2: x1, y2: y1 }, style: { stroke: "#777", lineWidth: 3 } });
    graphic.push({ type: "line", z: 91, shape: { x1: x0 - 1, y1: y0, x2: x1 + 1, y2: y0 }, style: { stroke: hc, lineWidth: hw } });
    graphic.push({ type: "line", z: 91, shape: { x1: x0 - 1, y1: y1, x2: x1 + 1, y2: y1 }, style: { stroke: hc, lineWidth: hw } });

    // legend
    const lt = g.top + 14;
    graphic.push({
      type: "rect", z: 95,
      shape: { x: g.left + 14, y: lt, width: 306, height: 98, r: 8 },
      style: { fill: "rgba(255,255,255,0.8)", stroke: "#d4d4d4", lineWidth: 3 },
    });
    graphic.push({
      type: "line", z: 96,
      shape: { x1: g.left + 24, y1: lt + 25, x2: g.left + 89, y2: lt + 25 },
      style: { stroke: p.pal.legend, lineWidth: 7 },
    });
    graphic.push({
      type: "line", z: 96,
      shape: { x1: g.left + 24, y1: lt + 69, x2: g.left + 89, y2: lt + 69 },
      style: { stroke: "#8a8a8a", lineWidth: 4 },
    });
    legendNames.forEach((nm, j) => {
      graphic.push({
        type: "text", z: 96, x: g.left + 113, y: lt + 25 + j * 44,
        style: {
          text: nm, font: `29px ${FONT}`, fill: "#3a3a3a",
          align: "left", verticalAlign: "middle", textAlign: "left", textVerticalAlign: "middle",
        },
      });
    });
  });

  return {
    animation: false,
    backgroundColor: "#fff",
    grid: grids.map((g) => ({ ...g, containLabel: false })),
    xAxis,
    yAxis,
    series,
    graphic: { elements: graphic },
  };
}

export default function App() {
  const ref = useRef<HTMLDivElement>(null);
  useEffect(() => {
    if (!ref.current) return;
    const chart = echarts.init(ref.current, null, { renderer: "svg" });
    chart.setOption(buildOption() as any);
    return () => chart.dispose();
  }, []);
  return (
    <div
      ref={ref}
      style={{ position: "absolute", left: 0, top: 0, width: 2642, height: 945, background: "#fff" }}
    />
  );
}
